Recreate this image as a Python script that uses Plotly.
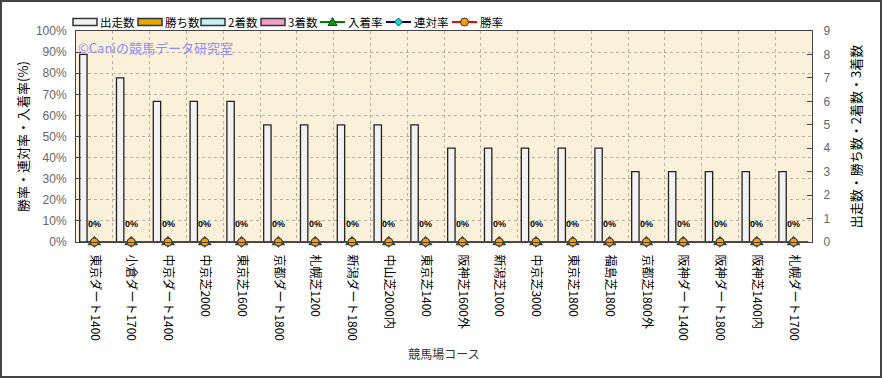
import plotly.graph_objects as go

courses = ["東京ダート1400", "小倉ダート1700", "中京ダート1400", "中京芝2000", "東京芝1600",
           "京都ダート1800", "札幌芝1200", "新潟ダート1800", "中山芝2000内", "東京芝1400",
           "阪神芝1600外", "新潟芝1000", "中京芝3000", "東京芝1800", "福島芝1800",
           "京都芝1800外", "阪神ダート1400", "阪神ダート1800", "阪神芝1400内", "札幌ダート1700"]
starts = [8, 7, 6, 6, 6, 5, 5, 5, 5, 5, 4, 4, 4, 4, 4, 3, 3, 3, 3, 3]
wins = [0] * 20
seconds = [0] * 20
thirds = [0] * 20
place_rate = [0] * 20
rentai_rate = [0] * 20
win_rate = [0] * 20

W, H = 882, 378
ML, MR, MT, MB = 76, 70, 31, 136
PW, PH = W - ML - MR, H - MT - MB

FONT = "Liberation Sans, Noto Sans CJK JP, sans-serif"
JFONT = "Noto Sans CJK JP, Liberation Sans, sans-serif"


def px(x):
    return (x - ML) / PW


def py(y):
    return 1 - (y - MT) / PH


fig = go.Figure()
bar_specs = [("出走数", starts, "#f2f2f2"), ("勝ち数", wins, "#e0aa00"),
             ("2着数", seconds, "#c8f0f0"), ("3着数", thirds, "#f0a0c8")]
for name, vals, col in bar_specs:
    fig.add_trace(go.Bar(x=courses, y=vals, name=name, yaxis="y", showlegend=False,
                         marker=dict(color=col, line=dict(color="#222222", width=1.3))))

line_specs = [("入着率", place_rate, "#008000", "triangle-up", "#00a000", 11),
              ("連対率", rentai_rate, "#000080", "diamond", "#00e0e0", 8),
              ("勝率", win_rate, "#ff0000", "circle", "#ff9900", 8)]
for name, vals, lc, sym, mc, ms in line_specs:
    fig.add_trace(go.Scatter(x=courses, y=vals, name=name, yaxis="y2", mode="lines+markers",
                             showlegend=False, line=dict(color=lc, width=2),
                             marker=dict(symbol=sym, color=mc, size=ms,
                                         line=dict(color="#333333", width=1)),
                             cliponaxis=False))

for c, r in zip(courses, win_rate):
    fig.add_annotation(x=c, y=r, xref="x", yref="y2", text=f"<b>{r}%</b>", showarrow=False,
                       yshift=18, font=dict(size=9, color="#000000", family=FONT))

# --- custom legend (layout decoration) ---
LEG_Y = 22
bar_leg_x = [73, 138, 201, 261]
for (name, _, col), x0 in zip(bar_specs, bar_leg_x):
    fig.add_shape(type="rect", xref="paper", yref="paper",
                  x0=px(x0), x1=px(x0 + 24), y0=py(LEG_Y + 3.5), y1=py(LEG_Y - 3.5),
                  fillcolor=col, line=dict(color="#333333", width=1.5))
    fig.add_annotation(x=px(x0 + 25), y=py(LEG_Y), xref="paper", yref="paper",
                       xanchor="left", yanchor="middle", text=name, showarrow=False,
                       font=dict(size=11.5, color="#000000", family=JFONT))

line_leg_x = [320, 386, 452]
for (name, _, lc, sym, mc, ms), x0 in zip(line_specs, line_leg_x):
    fig.add_shape(type="line", xref="paper", yref="paper",
                  x0=px(x0), x1=px(x0 + 25), y0=py(LEG_Y), y1=py(LEG_Y),
                  line=dict(color=lc, width=2))
    cx = x0 + 12.5
    if sym == "triangle-up":
        path = (f"M {px(cx - 4.5)} {py(LEG_Y + 3.5)} L {px(cx + 4.5)} {py(LEG_Y + 3.5)} "
                f"L {px(cx)} {py(LEG_Y - 4.5)} Z")
        fig.add_shape(type="path", xref="paper", yref="paper", path=path,
                      fillcolor=mc, line=dict(color="#333333", width=1))
    elif sym == "diamond":
        path = (f"M {px(cx - 4)} {py(LEG_Y)} L {px(cx)} {py(LEG_Y - 4)} "
                f"L {px(cx + 4)} {py(LEG_Y)} L {px(cx)} {py(LEG_Y + 4)} Z")
        fig.add_shape(type="path", xref="paper", yref="paper", path=path,
                      fillcolor=mc, line=dict(color="#333333", width=1))
    else:
        fig.add_shape(type="circle", xref="paper", yref="paper",
                      x0=px(cx - 4), x1=px(cx + 4), y0=py(LEG_Y + 4), y1=py(LEG_Y - 4),
                      fillcolor=mc, line=dict(color="#333333", width=1))
    fig.add_annotation(x=px(x0 + 26), y=py(LEG_Y), xref="paper", yref="paper",
                       xanchor="left", yanchor="middle", text=name, showarrow=False,
                       font=dict(size=11.5, color="#000000", family=JFONT))

fig.add_annotation(x=0, y=py(47), xref="paper", yref="paper", xanchor="left",
                   yanchor="middle", text="©Caniの競馬データ研究室", showarrow=False,
                   font=dict(size=13, color="#8c8cff", family=JFONT))

fig.add_shape(type="rect", xref="paper", yref="paper",
              x0=px(1), x1=px(W - 1), y0=py(H - 1), y1=py(1),
              line=dict(color="#444444", width=2), fillcolor="rgba(0,0,0,0)", layer="below")

fig.update_layout(
    width=W, height=H,
    margin=dict(l=ML, r=MR, t=MT, b=MB, pad=0, autoexpand=False),
    paper_bgcolor="#ffffff", plot_bgcolor="#fbf0d9",
    font=dict(family=JFONT, size=12, color="#000000"),
    barmode="group", bargap=0.2, bargroupgap=0,
    showlegend=False,
    xaxis=dict(type="category", tickangle=90, tickson="boundaries", ticks="",
               range=[-0.5, len(courses) - 0.5],
               automargin=False, ticklabelstandoff=9,
               showgrid=True, gridcolor="#b8b0a0", griddash="dot", gridwidth=1,
               showline=True, linecolor="#444444", linewidth=1, mirror=True,
               tickfont=dict(size=12, family=JFONT, color="#000000"),
               title=dict(text="競馬場コース", font=dict(size=12, color="#333333", family=JFONT),
                          standoff=10)),
    yaxis=dict(side="right", range=[0, 9], dtick=1, showgrid=False, zeroline=False,
               automargin=False, ticklabelstandoff=8,
               ticks="inside", ticklen=5, tickcolor="#444444",
               showline=True, linecolor="#444444", linewidth=1,
               tickfont=dict(size=12, color="#666666", family=FONT),
               title=dict(text="出走数・勝ち数・2着数・3着数",
                          font=dict(size=13, color="#000000", family=JFONT), standoff=22)),
    yaxis2=dict(side="left", overlaying="y", range=[0, 100], dtick=10, ticksuffix="%",
                automargin=False, ticklabelstandoff=6,
                showgrid=True, gridcolor="#b8b0a0", griddash="dot", gridwidth=1, zeroline=False,
                ticks="inside", ticklen=5, tickcolor="#444444",
                showline=True, linecolor="#444444", linewidth=1,
                tickfont=dict(size=12, color="#666666", family=FONT),
                title=dict(text="勝率・連対率・入着率(%)",
                           font=dict(size=13, color="#000000", family=JFONT), standoff=4)),
)

fig.write_html("out.html", config={"displayModeBar": False},
               post_script="document.body.style.margin='0';document.body.style.overflow='hidden';")
